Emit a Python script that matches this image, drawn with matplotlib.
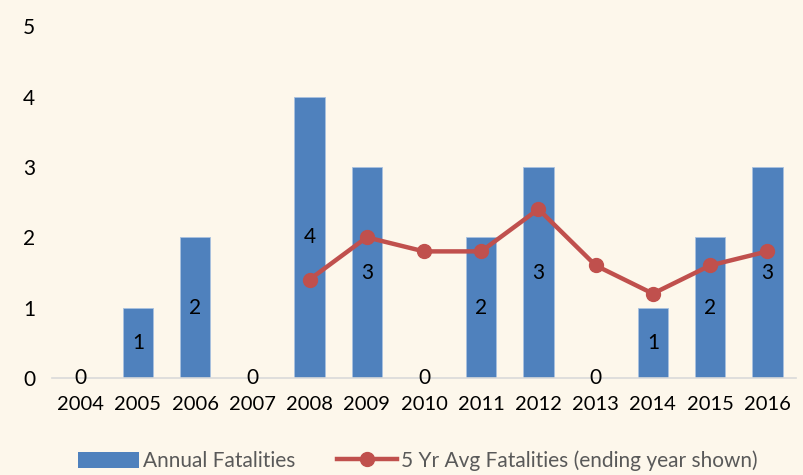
import numpy as np
import matplotlib.pyplot as plt
from matplotlib.lines import Line2D
from matplotlib.patches import Patch

# Data
years = ['2004', '2005', '2006', '2007', '2008', '2009', '2010',
         '2011', '2012', '2013', '2014', '2015', '2016']
annual = [0, 1, 2, 0, 4, 3, 0, 2, 3, 0, 1, 2, 3]
avg_years = ['2008', '2009', '2010', '2011', '2012', '2013', '2014', '2015', '2016']
avg5 = [1.4, 2.0, 1.8, 1.8, 2.4, 1.6, 1.2, 1.6, 1.8]

bg = '#FDF7EB'
blue = '#4F81BD'
red = '#C0504D'

plt.rcParams['font.family'] = ['Lato', 'DejaVu Sans']

fig = plt.figure(figsize=(8.04, 4.75), dpi=100, facecolor=bg)
ax = fig.add_axes([0.0647, 0.204, 0.9253, 0.741])
ax.set_facecolor(bg)

x = np.arange(len(years))
ax.bar(x, annual, width=0.53, color=blue, edgecolor='#A9C1DF', linewidth=0.6, zorder=2)

# value labels in the middle of each bar
for i, v in enumerate(annual):
    ax.text(i, v / 2, str(v), ha='center', va='center', fontsize=15, color='black', zorder=4)

ax_idx = [years.index(y) for y in avg_years]
ax.plot(ax_idx, avg5, color=red, linewidth=3.2, marker='o', markersize=10, zorder=3)

ax.set_xlim(-0.5, len(years) - 0.5)
ax.set_ylim(0, 5)
ax.set_xticks(x)
ax.set_xticklabels(years, fontsize=14.5)
ax.set_yticks(range(6))
ax.set_yticklabels([str(i) for i in range(6)], fontsize=15)
ax.tick_params(axis='both', length=0)
ax.tick_params(axis='x', pad=13)
ax.tick_params(axis='y', pad=12)
for s in ['top', 'right', 'left']:
    ax.spines[s].set_visible(False)
ax.spines['bottom'].set_color('#D9D9D9')
ax.spines['bottom'].set_linewidth(1.2)

handles = [Patch(facecolor=blue, edgecolor='none'),
           Line2D([0], [0], color=red, linewidth=3.2, marker='o', markersize=10)]
leg = fig.legend(handles, ['Annual Fatalities', '5 Yr Avg Fatalities (ending year shown)'],
                 loc='center', bbox_to_anchor=(0.52, 0.03), ncol=2, frameon=False,
                 fontsize=15, handlelength=2.9, handleheight=0.8, columnspacing=2.0,
                 handletextpad=0.2)
for t in leg.get_texts():
    t.set_color('#595959')

fig.savefig('out.png', dpi=100, facecolor=bg)
